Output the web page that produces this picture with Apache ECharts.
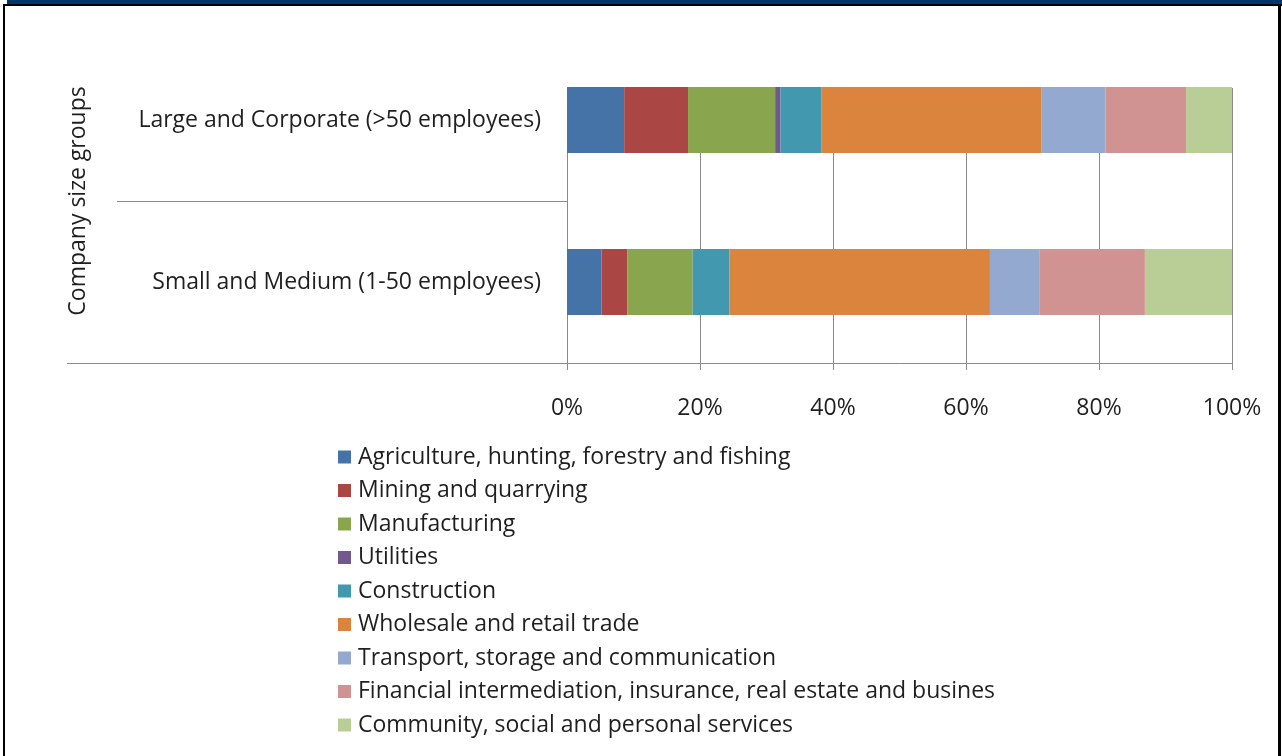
<!DOCTYPE html>
<html>
<head>
<meta charset="utf-8">
<script src="https://cdn.jsdelivr.net/npm/echarts@6/dist/echarts.min.js"></script>
<style>
  html, body { margin: 0; padding: 0; background: #ffffff; }
  #chart { width: 1282px; height: 756px; }
</style>
</head>
<body>
<div id="chart"></div>
<script>
// Company size groups (top to bottom)
const groups = ['Large and Corporate (>50 employees)', 'Small and Medium (1-50 employees)'];

// Industry sectors, in stacking / legend order
const sectors = [
  'Agriculture, hunting, forestry and fishing',
  'Mining and quarrying',
  'Manufacturing',
  'Utilities',
  'Construction',
  'Wholesale and retail trade',
  'Transport, storage and communication',
  'Financial intermediation, insurance, real estate and busines',
  'Community, social and personal services'
];

// Share of companies per sector (%), one array per size group
const largeShares = [8.6, 9.6, 13.1, 0.8, 6.2, 33.0, 9.7, 12.1, 6.9];
const smallShares = [5.2, 3.9, 9.8, 0.0, 5.5, 39.2, 7.5, 15.8, 13.1];

// Percentage axis tick values
const pctTicks = [0, 20, 40, 60, 80, 100];

const sectorColors = ['#4572A7', '#AA4643', '#89A54E', '#71588F', '#4198AF',
                      '#DB843D', '#93A9CF', '#D19392', '#B9CD96'];

const FONT = '"Open Sans"';
const FS = 23;
const AXIS_GRAY = '#8a8a8a';
const TEXT = '#1f1f1f';

const chart = echarts.init(document.getElementById('chart'), null, { renderer: 'canvas' });

const series = sectors.map((name, i) => ({
  name: name,
  type: 'bar',
  stack: 'total',
  xAxisIndex: 0,
  yAxisIndex: 0,
  barWidth: 66,
  itemStyle: { color: sectorColors[i] },
  emphasis: { disabled: true },
  data: [largeShares[i], smallShares[i]]
}));

chart.setOption({
  animation: false,
  textStyle: { fontFamily: FONT },
  graphic: [
    // window frame: navy header strip and black border
    { type: 'rect', shape: { x: 7, y: 0, width: 1275, height: 4.5 }, style: { fill: '#00366A' }, silent: true },
    { type: 'rect', shape: { x: 3, y: 4, width: 1279, height: 2 }, style: { fill: '#000000' }, silent: true },
    { type: 'rect', shape: { x: 3, y: 4, width: 2, height: 752 }, style: { fill: '#000000' }, silent: true },
    { type: 'rect', shape: { x: 1278, y: 4, width: 3, height: 752 }, style: { fill: '#000000' }, silent: true }
  ],
  legend: {
    orient: 'vertical',
    left: 338,
    top: 445,
    padding: 0,
    itemWidth: 13,
    itemHeight: 13,
    itemGap: 9.5,
    icon: 'rect',
    selectedMode: false,
    textStyle: { fontFamily: FONT, fontSize: FS, color: TEXT, lineHeight: 24, padding: [0, 0, 0, 2] },
    data: sectors
  },
  grid: [
    { left: 567, right: 50, top: 39, bottom: 393, containLabel: false },
    { left: 567, right: 50, top: 88, bottom: 393, containLabel: false }
  ],
  xAxis: [
    {
      type: 'value', gridIndex: 0, min: pctTicks[0], max: pctTicks[pctTicks.length - 1], interval: 20,
      axisLine: { show: true, onZero: false, lineStyle: { color: AXIS_GRAY, width: 1 } },
      axisTick: { show: true, length: 7, lineStyle: { color: AXIS_GRAY } },
      splitLine: { show: false },
      axisLabel: { fontFamily: FONT, fontSize: FS, color: TEXT, margin: 34, formatter: '{value}%' }
    },
    {
      type: 'value', gridIndex: 1, min: pctTicks[0], max: pctTicks[pctTicks.length - 1], interval: 20,
      axisLine: { show: false }, axisTick: { show: false }, axisLabel: { show: false },
      splitLine: { show: true, lineStyle: { color: AXIS_GRAY, width: 1 } }
    }
  ],
  yAxis: [
    {
      type: 'category', gridIndex: 0, inverse: true, data: groups,
      axisLine: { show: false },
      axisTick: { show: false },
      axisLabel: { fontFamily: FONT, fontSize: FS, color: TEXT, margin: 26 },
      name: 'Company size groups',
      nameLocation: 'middle',
      nameRotate: 90,
      nameGap: 477,
      nameTextStyle: { fontFamily: FONT, fontSize: FS, color: TEXT }
    },
    {
      // separator between the two size groups
      type: 'value', gridIndex: 0, min: 0, max: 2, position: 'left',
      axisLine: { show: false }, axisLabel: { show: false }, splitLine: { show: false },
      axisTick: { show: true, customValues: [1], length: 450, lineStyle: { color: AXIS_GRAY, width: 1 } }
    },
    {
      // baseline extension under the category labels
      type: 'value', gridIndex: 0, min: 0, max: 2, position: 'left',
      axisLine: { show: false }, axisLabel: { show: false }, splitLine: { show: false },
      axisTick: { show: true, customValues: [0], length: 500, lineStyle: { color: AXIS_GRAY, width: 1 } }
    },
    {
      // vertical axis line along the bar area
      type: 'value', gridIndex: 1, position: 'left',
      axisLine: { show: true, lineStyle: { color: AXIS_GRAY, width: 1 } },
      axisTick: { show: false }, axisLabel: { show: false }, splitLine: { show: false }
    }
  ],
  series: series
});
</script>
</body>
</html>
